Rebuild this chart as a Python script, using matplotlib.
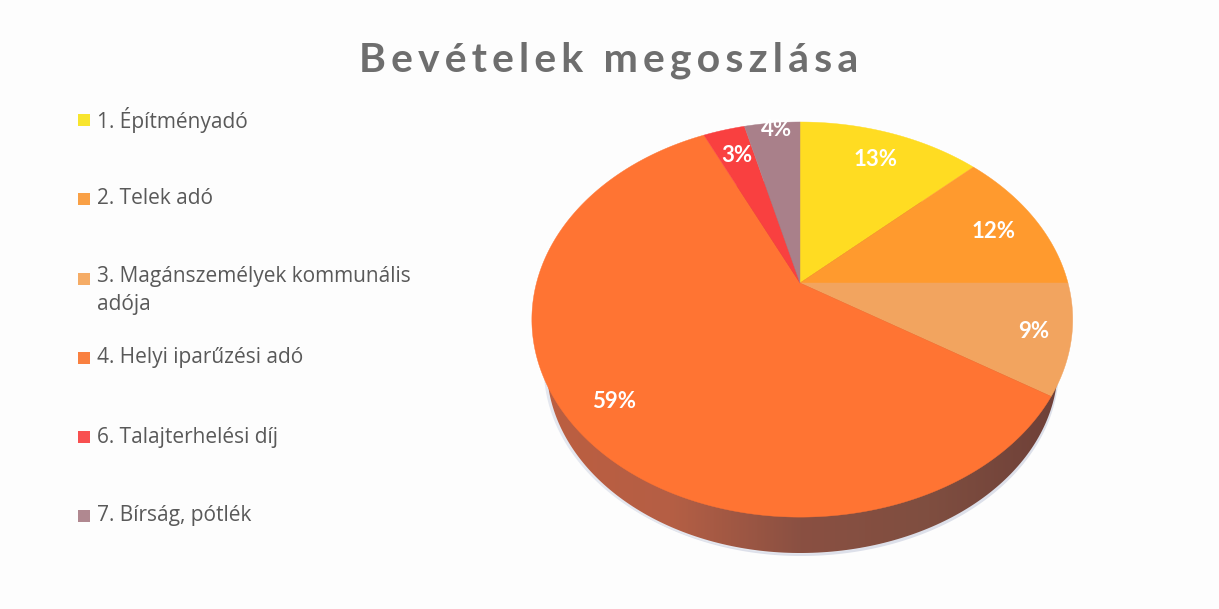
import matplotlib
matplotlib.use('Agg')
import matplotlib.pyplot as plt
import numpy as np
from matplotlib.colors import LinearSegmentedColormap
from matplotlib.patches import Polygon

# values
labels = ['1. Építményadó', '2. Telek adó', '3. Magánszemélyek kommunális\nadója',
          '4. Helyi iparűzési adó', '6. Talajterhelési díj', '7. Bírság, pótlék']
shares = [13, 12, 9, 59, 3, 4]
slice_colors = ['#FFDC22', '#FF9A2E', '#F2A45F', '#FF7433', '#F94040', '#A9808A']
legend_colors = ['#F8E52E', '#F9A046', '#F5AC66', '#F98040', '#F85050', '#B08890']
title = 'Bevételek megoszlása'

# pixel positions of the percent labels and legend rows
label_xy = [(876, 159), (994, 231), (1034, 331), (614, 401), (737, 156), (777, 129)]
legend_y = [120, 199, 279, 358, 437, 516]

plt.rcParams['font.family'] = ['Lato', 'DejaVu Sans']

fig = plt.figure(figsize=(12.19, 6.09), dpi=100, facecolor='#FDFDFD')
ax = fig.add_axes([0, 0, 1, 1])
ax.set_xlim(0, 1219)
ax.set_ylim(609, 0)
ax.axis('off')

# tilted disc, the slices meet above the middle of the ellipse (perspective)
cx, cy = 800, 283
sx_right, sx_left, sy, tilt = 268, 263.5, 190.8, 0.185


def disc(t):
    u, v = np.sin(t), np.cos(t)
    d = 1 + tilt * v
    return cx + np.where(u > 0, sx_right, sx_left) * u / d, cy - sy * v / d


# side wall, lower rim is a bit narrower than the top
t = np.linspace(0, 2 * np.pi, 400)
rx, ry = disc(t)
mid_x = (rx.max() + rx.min()) / 2
mid_y = (ry.max() + ry.min()) / 2
low_x = mid_x + (rx - mid_x) * 0.945
low_y = 553 - 0.945 * (ry.max() - mid_y) + (ry - mid_y) * 0.945

ax.fill(low_x + 1, low_y + 3, color='#DDE0EA', lw=0, zorder=1)  # soft shadow
ax.fill(low_x - 3, low_y + 1, color='#E4E7EF', lw=0, zorder=1)
wall = Polygon(np.column_stack([low_x, low_y]), closed=True, fc='none', ec='none', zorder=2)
ax.add_patch(wall)
wall_cmap = LinearSegmentedColormap.from_list('wall', ['#BC5E40', '#B55F45', '#8A5042', '#7F4E40', '#6E4038'])
im = ax.imshow(np.linspace(0, 1, 256).reshape(1, -1), cmap=wall_cmap, aspect='auto',
               extent=(540, 1060, 609, 0), zorder=2)
im.set_clip_path(wall)
ax.set_xlim(0, 1219)
ax.set_ylim(609, 0)

# top surface
edges = np.cumsum([0] + shares) / sum(shares) * 2 * np.pi
for i, share in enumerate(shares):
    a = np.linspace(edges[i], edges[i + 1], max(share * 4, 8))
    x, y = disc(a)
    ax.fill(np.r_[cx, x], np.r_[cy, y], color=slice_colors[i], lw=0.3, zorder=3)
    ax.text(label_xy[i][0], label_xy[i][1], f'{share}%', color='white', fontsize=16,
            fontweight='bold', ha='center', va='center', zorder=4)

# legend
for i, name in enumerate(labels):
    ax.scatter([84], [legend_y[i]], marker='s', s=85, color=legend_colors[i], lw=0, zorder=3)
    if '\n' in name:
        ax.text(97, legend_y[i] - 13, name, color='#595959', fontsize=15, family=['Open Sans'],
                ha='left', va='top', linespacing=1.42)
    else:
        ax.text(97, legend_y[i], name, color='#595959', fontsize=15, family=['Open Sans'],
                ha='left', va='center')

# title, thin spaces give the wide letter spacing
ax.text(609, 60, '\u2009'.join(title), color='#6E6E6E', fontsize=29.5, fontweight='bold', ha='center', va='center')

fig.savefig('out.png', dpi=100, facecolor=fig.get_facecolor())
